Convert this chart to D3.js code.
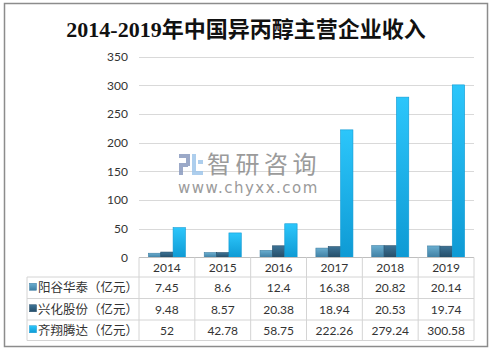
<!DOCTYPE html>
<html lang="zh">
<head>
<meta charset="UTF-8">
<script src="https://d3js.org/d3.v7.min.js"></script>
<style>
  body { margin: 0; background: #fff; }
  text { font-family: Lato, "Noto Sans CJK SC", sans-serif; }
</style>
</head>
<body>
<div id="container"></div>
<script>
// 数据
var years = ["2014", "2015", "2016", "2017", "2018", "2019"];
var seriesNames = ["阳谷华泰（亿元）", "兴化股份（亿元）", "齐翔腾达（亿元）"];
var yangu = [7.45, 8.6, 12.4, 16.38, 20.82, 20.14];
var xinghua = [9.48, 8.57, 20.38, 18.94, 20.53, 19.74];
var qixiang = [52, 42.78, 58.75, 222.26, 279.24, 300.58];
var yTicks = [0, 50, 100, 150, 200, 250, 300, 350];
var seriesValues = [yangu, xinghua, qixiang];
var colors = [["#6aaed0", "#3f7fa3"], ["#3d7396", "#244d68"], ["#2cc6fb", "#0e9ad4"]];

var W = 494, H = 351;
var plot = {left: 139, right: 474, top: 56.5, bottom: 257.5};
var tableLeft = 27, rowH = [257.5, 277, 298.5, 320, 340.5];

var svg = d3.select("#container").append("svg").attr("width", W).attr("height", H);

// 渐变
var defs = svg.append("defs");
colors.forEach(function (c, i) {
  var g = defs.append("linearGradient").attr("id", "g" + i)
    .attr("x1", 0).attr("y1", 0).attr("x2", 0).attr("y2", 1);
  g.append("stop").attr("offset", "0%").attr("stop-color", c[0]);
  g.append("stop").attr("offset", "100%").attr("stop-color", c[1]);
});

// 外框
svg.append("rect").attr("x", 4.5).attr("y", 3.5).attr("width", 483).attr("height", 343)
  .attr("fill", "#fff").attr("stroke", "#8c8c8c").attr("stroke-width", 1.5);

// 标题
svg.append("text").attr("x", 246).attr("y", 37).attr("text-anchor", "middle")
  .style("font-family", "'Liberation Serif', 'Noto Sans CJK SC', serif")
  .style("font-size", "22px").style("font-weight", "bold").attr("fill", "#111")
  .text("2014-2019年中国异丙醇主营企业收入");

var x = d3.scaleBand().domain(years).range([plot.left, plot.right]).padding(0);
var x1 = d3.scaleBand().domain([0, 1, 2]).range([0, x.bandwidth()]).paddingInner(0).paddingOuter(0.76);
var y = d3.scaleLinear().domain([0, 350]).range([plot.bottom, plot.top]);

// 网格线
svg.append("g").selectAll("line").data(yTicks.slice(1)).join("line")
  .attr("x1", plot.left).attr("x2", plot.right)
  .attr("y1", function (d) { return Math.round(y(d)) + 0.5; })
  .attr("y2", function (d) { return Math.round(y(d)) + 0.5; })
  .attr("stroke", "#d9d9d9").attr("stroke-width", 1);

// y 轴
var yAxis = svg.append("g").attr("transform", "translate(" + (plot.left - 11) + ",0)")
  .call(d3.axisLeft(y).tickValues(yTicks).tickSize(0).tickPadding(0));
yAxis.select(".domain").remove();
yAxis.selectAll("text").style("font-size", "12px").attr("fill", "#333")
  .style("font-family", "Lato, sans-serif");

// 水印
var wm = svg.append("g").attr("opacity", 0.85);
wm.append("rect").attr("x", 179).attr("y", 154).attr("width", 11).attr("height", 4).attr("fill", "#8a9bbf");
wm.append("rect").attr("x", 186).attr("y", 154).attr("width", 4).attr("height", 12).attr("fill", "#8a9bbf");
wm.append("rect").attr("x", 179).attr("y", 163).attr("width", 9).attr("height", 4).attr("fill", "#8a9bbf");
wm.append("rect").attr("x", 179).attr("y", 163).attr("width", 4).attr("height", 12).attr("fill", "#8a9bbf");
wm.append("rect").attr("x", 192).attr("y", 154).attr("width", 4).attr("height", 21).attr("fill", "#9fc6ea");
wm.append("rect").attr("x", 192).attr("y", 171).attr("width", 11).attr("height", 4).attr("fill", "#9fc6ea");
wm.append("rect").attr("x", 198).attr("y", 160).attr("width", 5).attr("height", 4).attr("fill", "#9fc6ea");
wm.append("text").attr("x", 207).attr("y", 173).style("font-size", "24px").attr("fill", "#8a8a8a")
  .style("letter-spacing", "4.5px").text("智研咨询");
wm.append("text").attr("x", 178).attr("y", 193).style("font-size", "15px").attr("fill", "#8a8a8a")
  .style("font-family", "'DejaVu Sans', sans-serif").style("letter-spacing", "1.5px")
  .text("www.chyxx.com");

// 柱子
var groups = svg.append("g").selectAll("g").data(years).join("g")
  .attr("transform", function (d) { return "translate(" + x(d) + ",0)"; });
groups.selectAll("rect").data(function (d, i) {
  return seriesValues.map(function (s, k) { return {k: k, v: s[i]}; });
}).join("rect")
  .attr("x", function (d) { return x1(d.k); })
  .attr("width", x1.bandwidth())
  .attr("y", function (d) { return y(d.v); })
  .attr("height", function (d) { return plot.bottom - y(d.v); })
  .attr("fill", function (d) { return "url(#g" + d.k + ")"; })
  .attr("stroke", function (d) { return colors[d.k][1]; }).attr("stroke-width", 0.6);

// 数据表
var tbl = svg.append("g");
var lineColor = "#d4d4d4";
// 横线
tbl.append("line").attr("x1", plot.left).attr("x2", plot.right).attr("y1", rowH[0]).attr("y2", rowH[0])
  .attr("stroke", "#bfbfbf");
rowH.slice(1).forEach(function (yy) {
  tbl.append("line").attr("x1", tableLeft).attr("x2", plot.right).attr("y1", yy).attr("y2", yy)
    .attr("stroke", lineColor);
});
// 竖线
tbl.append("line").attr("x1", tableLeft).attr("x2", tableLeft).attr("y1", rowH[1]).attr("y2", rowH[4])
  .attr("stroke", lineColor);
years.forEach(function (yr) {
  tbl.append("line").attr("x1", x(yr)).attr("x2", x(yr)).attr("y1", rowH[0]).attr("y2", rowH[4])
    .attr("stroke", lineColor);
});
tbl.append("line").attr("x1", plot.right).attr("x2", plot.right).attr("y1", rowH[0]).attr("y2", rowH[4])
  .attr("stroke", lineColor);

// 表头年份
tbl.selectAll(".yr").data(years).join("text").attr("class", "yr")
  .attr("x", function (d) { return x(d) + x.bandwidth() / 2; })
  .attr("y", (rowH[0] + rowH[1]) / 2 + 4.5).attr("text-anchor", "middle")
  .style("font-size", "12px").attr("fill", "#333").text(function (d) { return d; });

seriesNames.forEach(function (name, k) {
  var cy = (rowH[k + 1] + rowH[k + 2]) / 2;
  tbl.append("rect").attr("x", 29.5).attr("y", cy - 4.5).attr("width", 7).attr("height", 7)
    .attr("fill", "url(#g" + k + ")").attr("stroke", colors[k][1]).attr("stroke-width", 0.5);
  tbl.append("text").attr("x", 38).attr("y", cy + 4.5).style("font-size", "12.5px").attr("fill", "#333")
    .text(name);
  tbl.selectAll(".v" + k).data(seriesValues[k]).join("text").attr("class", "v" + k)
    .attr("x", function (d, i) { return x(years[i]) + x.bandwidth() / 2; })
    .attr("y", cy + 4.5).attr("text-anchor", "middle")
    .style("font-size", "12px").attr("fill", "#333").text(function (d) { return d; });
});
</script>
</body>
</html>
